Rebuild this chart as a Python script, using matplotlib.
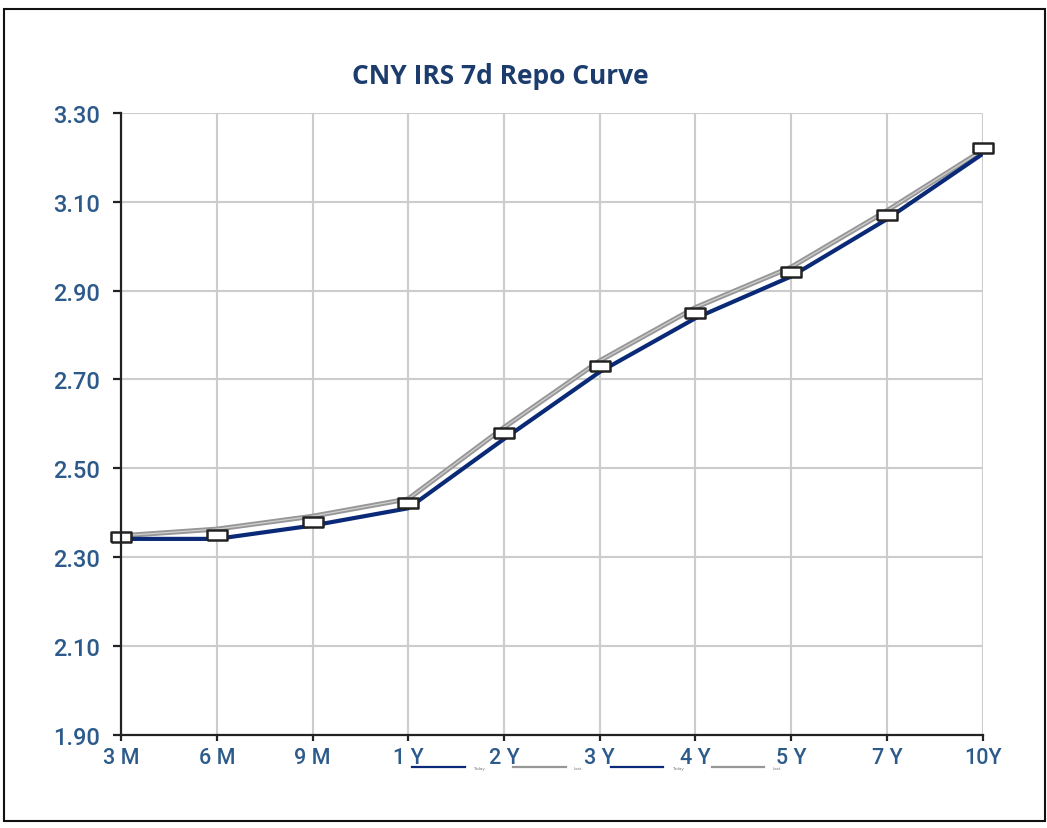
import matplotlib.pyplot as plt
from matplotlib.patches import Rectangle
from matplotlib.lines import Line2D

# Curve data
tenors = ["3 M", "6 M", "9 M", "1 Y", "2 Y", "3 Y", "4 Y", "5 Y", "7 Y", "10Y"]
today = [2.341, 2.341, 2.371, 2.410, 2.566, 2.717, 2.838, 2.932, 3.061, 3.208]
last = [2.348, 2.363, 2.392, 2.431, 2.592, 2.742, 2.862, 2.953, 3.080, 3.216]
marks = [2.346, 2.350, 2.380, 2.421, 2.580, 2.731, 2.850, 2.942, 3.071, 3.221]
y_ticks = [1.90, 2.10, 2.30, 2.50, 2.70, 2.90, 3.10, 3.30]

navy = "#0a2a78"
grey = "#979797"
label_col = "#2c5a8a"
title_col = "#1b3c6c"

fig = plt.figure(figsize=(10.47, 8.29), dpi=100)
ax = fig.add_axes([0.1156, 0.1125, 0.8230, 0.7500])

x = list(range(len(tenors)))

ax.plot(x, last, color=grey, lw=3.6, solid_capstyle="butt", zorder=3)
ax.plot(x, last, color="#cfcfcf", lw=0.9, zorder=3)
ax.plot(x, today, color=navy, lw=3.0, solid_capstyle="butt", zorder=4)

# white rectangular markers
rect_marker = [(-1, -0.45), (1, -0.45), (1, 0.45), (-1, 0.45), (-1, -0.45)]
ax.plot(x, marks, ls="none", marker=rect_marker, markersize=14.5,
        markerfacecolor="white", markeredgecolor="#222222", markeredgewidth=1.8,
        zorder=5, clip_on=False)

ax.set_xlim(0, len(tenors) - 1)
ax.set_ylim(1.90, 3.30)
ax.set_yticks(y_ticks)
ax.set_yticklabels([f"{v:.2f}" for v in y_ticks])
ax.set_xticks(x)
ax.set_xticklabels(tenors)

ax.grid(True, color="#cccccc", lw=1.5, zorder=0)
for s in ["top", "right"]:
    ax.spines[s].set_visible(False)
for s in ["left", "bottom"]:
    ax.spines[s].set_linewidth(1.6)
    ax.spines[s].set_color("#222222")
    ax.spines[s].set_zorder(6)

ax.tick_params(axis="y", length=6, width=1.6, color="#222222", pad=9,
               labelsize=17, labelcolor=label_col)
ax.tick_params(axis="x", length=4, width=1.6, color="#222222", pad=5,
               labelsize=15.5, labelcolor=label_col)
for lab in ax.get_xticklabels() + ax.get_yticklabels():
    lab.set_fontfamily(["Roboto", "Liberation Sans"])
    lab.set_fontweight("medium")

fig.text(0.478, 0.908, "CNY IRS 7d Repo Curve", ha="center", va="center",
         fontsize=19, fontweight="bold", color=title_col, family="Open Sans")

# tiny legend squeezed into the tick label row
handles = [Line2D([], [], color=navy, lw=1.6), Line2D([], [], color=grey, lw=1.6),
           Line2D([], [], color=navy, lw=1.6), Line2D([], [], color=grey, lw=1.6)]
fig.legend(handles, ["Today", "Last", "Today", "Last"], ncol=4, fontsize=3,
           loc="center", bbox_to_anchor=(0.570, 0.0725), frameon=False,
           handlelength=12.5, handletextpad=2, columnspacing=6.9,
           labelcolor="#777777")

# outer chart border
fig.patches.append(Rectangle((0.004, 0.008), 0.994, 0.980, transform=fig.transFigure,
                             fill=False, edgecolor="#111111", lw=1.5))

fig.savefig("out.png", dpi=100)
